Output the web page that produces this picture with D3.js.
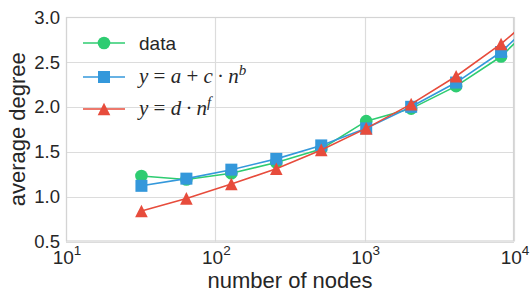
<!DOCTYPE html>
<html>
<head>
<meta charset="utf-8">
<script src="https://cdn.jsdelivr.net/npm/d3@7/dist/d3.min.js"></script>
<style>
  html, body { margin: 0; padding: 0; background: #fff; }
  svg text { fill: #262626; font-family: "Liberation Sans", Arial, sans-serif; }
</style>
</head>
<body>
<svg id="chart" width="530" height="293"></svg>
<script>
  'use strict';

  var nodes = [32, 64, 128, 256, 512, 1024, 2048, 4096, 8192, 16384],
    dataVals = [1.23, 1.19, 1.26, 1.38, 1.53, 1.84, 1.98, 2.23, 2.56, 3.05],
    fitPow = [1.12, 1.20, 1.30, 1.42, 1.57, 1.76, 2.00, 2.27, 2.61, 3.08],
    fitPure = [0.84, 0.98, 1.14, 1.31, 1.52, 1.76, 2.03, 2.34, 2.70, 3.13],
    xTicks = [1, 2, 3, 4],
    yTicks = [0.5, 1.0, 1.5, 2.0, 2.5, 3.0];

  (function () {
    var svg = d3.select('#chart'),
      left = 66,
      right = 514,
      top = 17,
      bottom = 241.5;

    var x = d3.scaleLog().domain([10, 10000]).range([left, right]),
      y = d3.scaleLinear().domain([0.5, 3.0]).range([bottom, top]);

    svg.append('defs').append('clipPath').attr('id', 'plotClip')
      .append('rect')
      .attr('x', left).attr('y', top)
      .attr('width', right - left).attr('height', bottom - top);

    // grid
    var grid = svg.append('g');
    grid.selectAll('line.gx').data(xTicks).enter().append('line')
      .attr('x1', function (d) { return Math.round(x(Math.pow(10, d))) + 0.5; })
      .attr('x2', function (d) { return Math.round(x(Math.pow(10, d))) + 0.5; })
      .attr('y1', top).attr('y2', bottom)
      .attr('stroke', '#dcdcdc').attr('stroke-width', 1.2);
    grid.selectAll('line.gy').data(yTicks).enter().append('line')
      .attr('x1', left).attr('x2', right)
      .attr('y1', function (d) { return Math.round(y(d)) + 0.5; })
      .attr('y2', function (d) { return Math.round(y(d)) + 0.5; })
      .attr('stroke', '#dcdcdc').attr('stroke-width', 1.2);
    grid.append('rect')
      .attr('x', left + 0.5).attr('y', top + 0.5)
      .attr('width', right - left - 1).attr('height', bottom - top - 1)
      .attr('fill', 'none').attr('stroke', '#d4d4d4').attr('stroke-width', 1.2);

    // tick labels
    svg.selectAll('text.yt').data(yTicks).enter().append('text')
      .attr('x', 60).attr('y', function (d) { return y(d); })
      .attr('dy', '0.36em')
      .attr('text-anchor', 'end')
      .style('font-size', '18.5px')
      .text(function (d) { return d.toFixed(1); });

    var xt = svg.selectAll('text.xt').data(xTicks).enter().append('text')
      .attr('x', function (d) { return x(Math.pow(10, d)) + 1; })
      .attr('y', 264)
      .attr('text-anchor', 'middle')
      .style('font-size', '19px');
    xt.append('tspan').text('10');
    xt.append('tspan').attr('dy', -9).style('font-size', '13.5px')
      .text(function (d) { return d; });

    // axis titles
    svg.append('text')
      .attr('x', (left + right) / 2).attr('y', 288)
      .attr('text-anchor', 'middle')
      .style('font-size', '22px')
      .text('number of nodes');
    svg.append('text')
      .attr('transform', 'translate(25,' + ((top + bottom) / 2) + ') rotate(-90)')
      .attr('text-anchor', 'middle')
      .style('font-size', '22px')
      .text('average degree');

    function triPath(s) {
      return 'M0,' + (-s) + 'L' + (-s) + ',' + s + 'L' + s + ',' + s + 'Z';
    }

    var series = [
      {name: 'data', vals: dataVals, color: '#2ecc71', shape: 'circle'},
      {name: 'pow', vals: fitPow, color: '#3498db', shape: 'square'},
      {name: 'pure', vals: fitPure, color: '#e74c3c', shape: 'triangle'}
    ];

    function drawMarker(g, shape, color) {
      if (shape === 'circle') {
        g.append('circle').attr('r', 6.3).attr('fill', color);
      } else if (shape === 'square') {
        g.append('rect').attr('x', -6).attr('y', -6)
          .attr('width', 12).attr('height', 12).attr('fill', color);
      } else {
        g.append('path').attr('d', triPath(6.3)).attr('fill', color);
      }
    }

    var plot = svg.append('g').attr('clip-path', 'url(#plotClip)');
    var line = d3.line()
      .x(function (d) { return x(d[0]); })
      .y(function (d) { return y(d[1]); });

    series.forEach(function (s) {
      var pts = nodes.map(function (n, i) { return [n, s.vals[i]]; });
      plot.append('path')
        .attr('d', line(pts))
        .attr('fill', 'none')
        .attr('stroke', s.color)
        .attr('stroke-width', 1.6);
      plot.selectAll(null).data(pts).enter().append('g')
        .attr('transform', function (d) { return 'translate(' + x(d[0]) + ',' + y(d[1]) + ')'; })
        .each(function () { drawMarker(d3.select(this), s.shape, s.color); });
    });

    // legend
    var legend = svg.append('g'),
      rows = [43, 77, 109];
    series.forEach(function (s, i) {
      var row = legend.append('g').attr('transform', 'translate(0,' + rows[i] + ')');
      row.append('line').attr('x1', 83).attr('x2', 125)
        .attr('stroke', s.color).attr('stroke-width', 1.6);
      drawMarker(row.append('g').attr('transform', 'translate(104,0)'), s.shape, s.color);
    });

    legend.append('text').attr('x', 139).attr('y', rows[0]).attr('dy', '0.36em')
      .style('font-size', '19px').text('data');

    function mathText(yy, parts) {
      var t = legend.append('text').attr('x', 139).attr('y', yy).attr('dy', '0.3em')
        .style('font-family', '"Liberation Serif", "Times New Roman", serif')
        .style('font-size', '21px');
      parts.forEach(function (p) {
        var ts = t.append('tspan').text(p.t);
        if (p.i) ts.style('font-style', 'italic');
        if (p.sup) ts.attr('dy', -8).style('font-size', '15px');
      });
    }
    mathText(rows[1], [
      {t: 'y', i: true}, {t: ' = '}, {t: 'a', i: true}, {t: ' + '}, {t: 'c', i: true},
      {t: '\u2009\u00b7\u2009'}, {t: 'n', i: true}, {t: 'b', i: true, sup: true}
    ]);
    mathText(rows[2], [
      {t: 'y', i: true}, {t: ' = '}, {t: 'd', i: true}, {t: '\u2009\u00b7\u2009'},
      {t: 'n', i: true}, {t: 'f', i: true, sup: true}
    ]);
  })();
</script>
</body>
</html>
